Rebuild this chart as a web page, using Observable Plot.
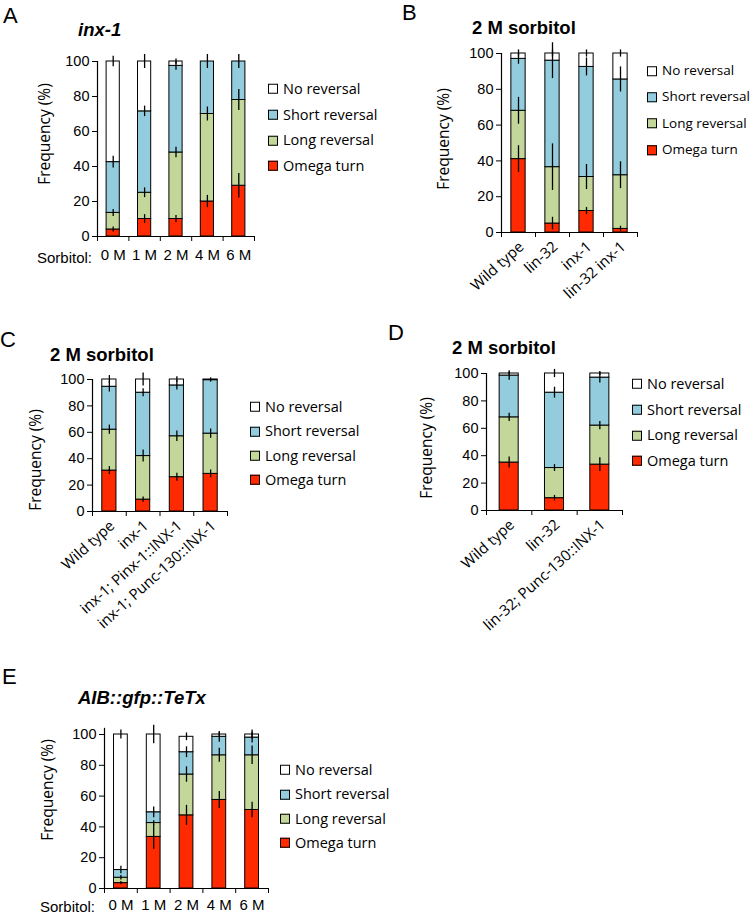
<!DOCTYPE html>
<html><head><meta charset="utf-8">
<script src="https://cdn.jsdelivr.net/npm/d3@7"></script>
<script src="https://cdn.jsdelivr.net/npm/@observablehq/plot@0.6"></script>
<style>
body{margin:0;background:#fff;}
#page{position:relative;width:754px;height:916px;overflow:hidden;background:#fff;font-family:"Liberation Sans",Arial,sans-serif;color:#000;}
.abs{position:absolute;white-space:nowrap;line-height:1;}
.letter{font-size:22px;}
.title{font-size:18.5px;font-weight:bold;transform:translateY(-50%);}
.ylab{font-family:"Open Sans",sans-serif;font-size:15.5px;transform:translate(-50%,-50%) rotate(-90deg);}
.xlab{font-size:15px;transform:translateY(-50%);}
.leg{font-family:"Open Sans",sans-serif;font-size:14px;transform:translateY(-50%);display:flex;align-items:center;}
.sw{width:10px;height:10px;border:1px solid #000;box-sizing:border-box;margin-right:5px;}
svg{position:absolute;overflow:visible;background:transparent;}
</style></head><body><div id="page"></div><script>
const seriesNames = ["Omega turn", "Long reversal", "Short reversal", "No reversal"];
const seriesColors = ["#ff2a00", "#c4d79b", "#93cddd", "#ffffff"];
const yTicks = [0, 20, 40, 60, 80, 100];

// Panel A: inx-1
const aCategories = ["0 M", "1 M", "2 M", "4 M", "6 M"];
const aOmega = [4, 10, 10, 20, 29];
const aLong = [9.5, 15, 38, 50, 49];
const aShort = [29, 46.5, 49.5, 30, 22];
const aNone = [57.5, 28.5, 2.5, 0, 0];
const aOmegaErr = [1.4, 2.5, 2, 3.5, 7];
const aLongErr = [2, 2.8, 3, 4, 6];
const aShortErr = [3.3, 3, 2.5, 0, 0];
const aNoneErr = [3, 4, 1.5, 4, 4];

// Panel B: 2 M sorbitol
const bCategories = ["Wild type", "lin-32", "inx-1", "lin-32 inx-1"];
const bOmega = [41, 5, 12, 2];
const bLong = [27, 31.5, 19, 30];
const bShort = [29, 59.5, 61.5, 53.5];
const bNone = [3, 4, 7.5, 14.5];
const bOmegaErr = [7.5, 3.5, 2, 1.5];
const bLongErr = [7.5, 13, 7, 7.5];
const bShortErr = [3, 10, 5, 7];
const bNoneErr = [2, 2, 2, 2];

// Panel C: 2 M sorbitol
const cCategories = ["Wild type", "inx-1", "inx-1; Pinx-1::INX-1", "inx-1; Punc-130::INX-1"];
const cOmega = [31, 9, 26, 28.5];
const cLong = [31, 33, 31, 30.5];
const cShort = [32.5, 48, 38.5, 40.5];
const cNone = [5.5, 10, 4.5, 0.5];
const cOmegaErr = [3, 2, 3, 3];
const cLongErr = [3.5, 4.5, 4, 3.5];
const cShortErr = [4, 3, 3.5, 1.5];
const cNoneErr = [3, 5, 2, 1];

// Panel D: 2 M sorbitol
const dCategories = ["Wild type", "lin-32", "lin-32; Punc-130::INX-1"];
const dOmega = [35, 9, 33.5];
const dLong = [33, 22, 28.5];
const dShort = [30.5, 55, 35];
const dNone = [1.5, 14, 3];
const dOmegaErr = [4, 2, 5];
const dLongErr = [3, 2.5, 3];
const dShortErr = [3.5, 4, 4];
const dNoneErr = [1, 3, 1.5];

// Panel E: AIB::gfp::TeTx
const eCategories = ["0 M", "1 M", "2 M", "4 M", "6 M"];
const eOmega = [3.5, 33.5, 47.5, 57.5, 51];
const eLong = [3.5, 9, 26.5, 29, 35.5];
const eShort = [5, 7, 14.5, 12, 11.5];
const eNone = [88, 50.5, 10, 1.5, 2];
const eOmegaErr = [1, 8, 6.5, 5.5, 5];
const eLongErr = [1.5, 1.5, 5, 4.5, 6];
const eShortErr = [2.5, 3.5, 3.5, 3.5, 3.5];
const eNoneErr = [3, 6, 2.5, 1.5, 3];

// Text
const panelLetters = ["A", "B", "C", "D", "E"];
const panelTitles = ["inx-1", "2 M sorbitol", "2 M sorbitol", "2 M sorbitol", "AIB::gfp::TeTx"];
const yLabel = "Frequency (%)";
const xPrefix = "Sorbitol:";

// Layout (page pixels)
const panels = [
  {cats: aCategories, vals: [aOmega, aLong, aShort, aNone], errs: [aOmegaErr, aLongErr, aShortErr, aNoneErr],
   frame: [97, 254, 61, 236], rotate: false, letter: [3, 5], title: [78, 30, true], ylab: [45, 134],
   legend: [268, 89, 25.7, 14.5], prefix: [37, 257], xpad: 13, axisTop: 100},
  {cats: bCategories, vals: [bOmega, bLong, bShort, bNone], errs: [bOmegaErr, bLongErr, bShortErr, bNoneErr],
   frame: [501, 637, 53, 232], rotate: true, letter: [402, 2], title: [472, 28, false], ylab: [444, 139],
   legend: [647, 71, 26.3, 13.5], axisTop: 100},
  {cats: cCategories, vals: [cOmega, cLong, cShort, cNone], errs: [cOmegaErr, cLongErr, cShortErr, cNoneErr],
   frame: [92, 227, 379, 511], rotate: true, letter: [0, 329], title: [50, 355, false], ylab: [36, 460],
   legend: [250, 407, 24.4, 14.5], axisTop: 100},
  {cats: dCategories, vals: [dOmega, dLong, dShort, dNone], errs: [dOmegaErr, dLongErr, dShortErr, dNoneErr],
   frame: [486, 622, 373, 510], rotate: true, letter: [388, 322], title: [452, 348, false], ylab: [427, 448],
   legend: [632, 384, 25.7, 14.5], axisTop: 100},
  {cats: eCategories, vals: [eOmega, eLong, eShort, eNone], errs: [eOmegaErr, eLongErr, eShortErr, eNoneErr],
   frame: [104, 268, 734, 888], rotate: false, letter: [2, 666], title: [78, 698, true], ylab: [48, 790],
   legend: [280, 770, 24.4, 14.5], prefix: [40, 906], xpad: 11, axisTop: 104}
];

const page = document.getElementById("page");
function addDiv(cls, text, left, top, extra) {
  const d = document.createElement("div");
  d.className = "abs " + cls;
  d.textContent = text;
  d.style.left = left + "px";
  d.style.top = top + "px";
  if (extra) Object.assign(d.style, extra);
  page.appendChild(d);
  return d;
}

panels.forEach((p, pi) => {
  const [fx0, fx1, fy0, fy1] = p.frame;
  const mL = 90, mR = 12, mT = 12, mB = 150;
  const W = fx1 - fx0, H = fy1 - fy0;
  const n = p.cats.length, step = W / n;
  const rows = [], errRows = [];
  p.cats.forEach((c, i) => {
    let cum = 0;
    seriesNames.forEach((s, k) => {
      const v = p.vals[k][i];
      rows.push({cat: c, series: s, value: v});
      cum += v;
      const e = p.errs[k][i];
      if (e > 0) errRows.push({cat: c, lo: cum - e, hi: cum + e});
    });
  });
  const svg = Plot.plot({
    width: W + mL + mR, height: H + mT + mB,
    marginLeft: mL, marginRight: mR, marginTop: mT, marginBottom: mB,
    style: {fontFamily: "Liberation Sans, Arial, sans-serif", fontSize: "14px", background: "transparent", overflow: "visible"},
    x: {type: "band", domain: p.cats, paddingInner: 0.58, paddingOuter: 0.29, round: false, axis: null},
    y: {domain: [0, 100], axis: null},
    color: {domain: seriesNames, range: seriesColors},
    marks: [
      Plot.barY(rows, {x: "cat", y: "value", fill: "series", stroke: "#000", strokeWidth: 1}),
      Plot.ruleX(errRows, {x: "cat", y1: "lo", y2: "hi", stroke: "#000", strokeWidth: 1.3}),
      Plot.ruleY([0], {stroke: "#000", strokeWidth: 1.2}),
      Plot.ruleX([p.cats[0]], {x: d => d, y1: 0, y2: p.axisTop, dx: -step / 2, stroke: "#000", strokeWidth: 1.2}),
      Plot.axisY({ticks: yTicks, tickSize: 5, tickPadding: 3, label: null, fontSize: 14.5, stroke: "#000"}),
      Plot.axisX({tickSize: 5, dx: -step / 2, tickFormat: () => "", label: null, stroke: "#000"}),
      Plot.axisX({ticks: [p.cats[n - 1]], tickSize: 5, dx: step / 2, tickFormat: () => "", label: null, stroke: "#000"}),
      p.rotate
        ? Plot.axisX({tickSize: 0, tickPadding: 12, tickRotate: -42, dx: 3, label: null, fontSize: 15, fontFamily: "Open Sans, sans-serif"})
        : Plot.axisX({tickSize: 0, tickPadding: p.xpad, label: null, fontSize: 15})
    ]
  });
  svg.style.left = (fx0 - mL) + "px";
  svg.style.top = (fy0 - mT) + "px";
  page.appendChild(svg);

  addDiv("letter", panelLetters[pi], p.letter[0], p.letter[1]);
  addDiv("title", panelTitles[pi], p.title[0], p.title[1], p.title[2] ? {fontStyle: "italic"} : null);
  addDiv("ylab", yLabel, p.ylab[0], p.ylab[1]);
  if (p.prefix) addDiv("xlab", xPrefix, p.prefix[0], p.prefix[1]);
  const [lx, ly, ld, lf] = p.legend;
  seriesNames.slice().reverse().forEach((s, j) => {
    const d = addDiv("leg", "", lx, ly + j * ld, {fontSize: lf + "px"});
    const sw = document.createElement("span");
    sw.className = "sw";
    sw.style.background = seriesColors[seriesNames.indexOf(s)];
    d.appendChild(sw);
    d.appendChild(document.createTextNode(s));
  });
});
</script></body></html>
